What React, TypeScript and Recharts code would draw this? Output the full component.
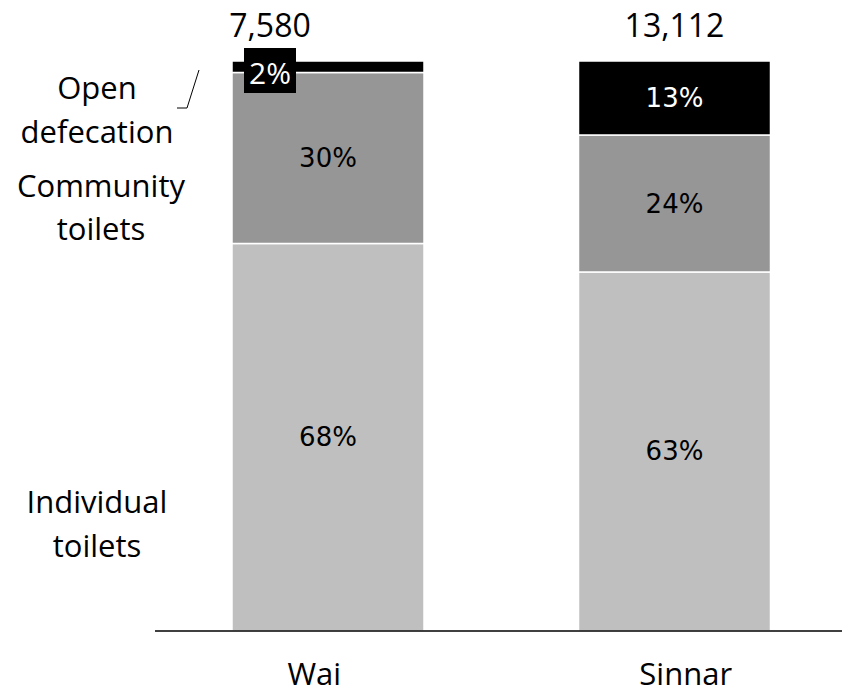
import React from 'react';
import { BarChart, Bar, XAxis, YAxis, LabelList } from 'recharts';

const districts = ['Wai', 'Sinnar'];
const individualToilets = [68, 63];
const communityToilets = [30, 24];
const openDefecation = [2, 13];
const households = [7580, 13112];
const seriesNames = ['Individual toilets', 'Community toilets', 'Open defecation'];

const data = districts.map((name, i) => ({
  name,
  individual: individualToilets[i],
  community: communityToilets[i],
  open: openDefecation[i],
  total: households[i],
}));

const labelFont = '"Open Sans", sans-serif';
const pctFont = '"DejaVu Sans", sans-serif';

const PctLabel = ({ x, y, width, height, value, fill }: any) => (
  <text
    x={x + width / 2}
    y={y + height / 2}
    textAnchor="middle"
    dominantBaseline="central"
    fill={fill}
    style={{ fontFamily: pctFont, fontSize: 26 }}
  >
    {value}%
  </text>
);

// top segment: percentage (callout box when too thin) + household total above
const OpenLabel = (props: any) => {
  const { x, y, width, height, value, index } = props;
  const small = height < 24;
  const boxX = x + 12;
  const boxW = 52;
  const totalX = small ? boxX + boxW / 2 : x + width / 2;
  return (
    <g>
      {small ? (
        <g>
          <rect x={boxX} y={y - 13} width={boxW} height={45} fill="#000" />
          <text
            x={boxX + boxW / 2}
            y={y + 11}
            textAnchor="middle"
            dominantBaseline="central"
            fill="#fff"
            style={{ fontFamily: labelFont, fontSize: 30 }}
          >
            {value}%
          </text>
          <polyline
            points={`${x - 33},${y + 9} ${x - 45},${y + 47} ${x - 55},${y + 47}`}
            fill="none"
            stroke="#000"
            strokeWidth={1}
          />
        </g>
      ) : (
        <PctLabel {...props} fill="#fff" />
      )}
      <text
        x={totalX}
        y={y - 24}
        textAnchor="middle"
        fill="#000"
        style={{ fontFamily: labelFont, fontSize: 32 }}
      >
        {households[index].toLocaleString('en-US')}
      </text>
    </g>
  );
};

// the slide's category names sit a little wider apart than the bars
const CategoryTick = ({ x, payload }: any) => (
  <text
    x={500 + (x - 501.5) * 1.072}
    y={685}
    textAnchor="middle"
    fill="#000"
    style={{ fontFamily: labelFont, fontSize: 31 }}
  >
    {payload.value}
  </text>
);

// series names placed on the left like the original slide
const sideLabels = [
  { lines: seriesNames[2].split(' '), x: 97, y: [99, 143] },
  { lines: seriesNames[1].split(' '), x: 101, y: [197, 240] },
  { lines: seriesNames[0].split(' '), x: 97, y: [513, 557] },
];

export default function App() {
  return (
    <div style={{ position: 'absolute', left: 0, top: 0, width: 842, height: 688, overflow: 'hidden', background: '#fff' }}>
      <BarChart
        width={848}
        height={688}
        data={data}
        margin={{ top: 61, right: 0, bottom: 0, left: 155 }}
        barSize={192}
      >
        <XAxis
          dataKey="name"
          axisLine={{ stroke: '#000', strokeWidth: 1.5 }}
          tickLine={false}
          tick={<CategoryTick />}
          height={57}
        />
        <YAxis hide domain={[0, 100]} />
        <Bar dataKey="individual" stackId="a" fill="#bfbfbf" stroke="#fff" strokeWidth={1.5} isAnimationActive={false}>
          <LabelList dataKey="individual" content={<PctLabel fill="#000" />} />
        </Bar>
        <Bar dataKey="community" stackId="a" fill="#969696" stroke="#fff" strokeWidth={1.5} isAnimationActive={false}>
          <LabelList dataKey="community" content={<PctLabel fill="#000" />} />
        </Bar>
        <Bar dataKey="open" stackId="a" fill="#000" stroke="#fff" strokeWidth={1.5} isAnimationActive={false}>
          <LabelList dataKey="open" content={<OpenLabel />} />
        </Bar>
      </BarChart>
      <svg width={842} height={688} style={{ position: 'absolute', left: 0, top: 0, pointerEvents: 'none' }}>
        {sideLabels.map((s, i) =>
          s.lines.map((line, j) => (
            <text
              key={`${i}-${j}`}
              x={s.x}
              y={s.y[j]}
              textAnchor="middle"
              fill="#000"
              style={{ fontFamily: labelFont, fontSize: 31 }}
            >
              {line}
            </text>
          ))
        )}
      </svg>
    </div>
  );
}
